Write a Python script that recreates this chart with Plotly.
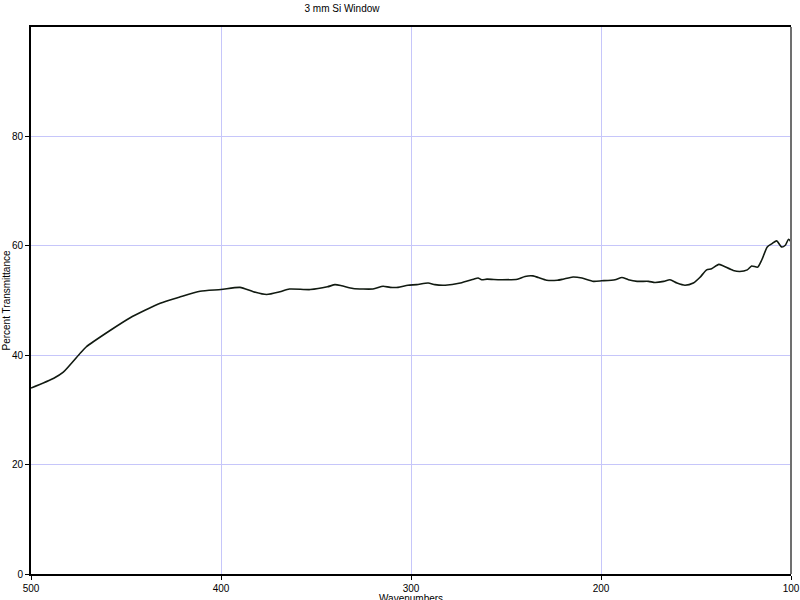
import plotly.graph_objects as go

title_text = "3 mm Si Window"
x_title = "Wavenumbers"
y_title = "Percent Transmittance"

wavenumbers = [500, 488, 483, 474, 471, 458, 448, 432, 422, 411, 400, 390, 383, 376, 369,
               364, 353, 344, 340, 336.5, 330.5, 320, 314.7, 311, 306.8, 301.6, 297, 291,
               287.4, 282, 274, 267, 264.7, 262.8, 260, 253, 244, 240, 235.8, 233, 228.6,
               223, 220, 214.7, 210, 204, 199.6, 192.6, 189, 185.6, 181, 175, 171.6, 167,
               163.7, 160, 155.8, 151.4, 148, 144.4, 141.8, 138, 135.6, 130.4, 127, 123,
               120.7, 117.5, 115.4, 112.5, 110, 107.5, 105, 103, 101.3, 100]
transmittance = [34.0, 35.8, 36.9, 40.4, 41.5, 44.6, 46.8, 49.5, 50.6, 51.7, 52.0, 52.4, 51.6,
                 51.1, 51.6, 52.1, 52.0, 52.5, 52.9, 52.7, 52.2, 52.1, 52.6, 52.4, 52.4, 52.8,
                 52.9, 53.2, 52.9, 52.8, 53.2, 53.9, 54.1, 53.8, 53.9, 53.8, 53.9, 54.4, 54.5,
                 54.2, 53.7, 53.7, 53.9, 54.3, 54.1, 53.5, 53.6, 53.8, 54.2, 53.8, 53.5, 53.5,
                 53.3, 53.5, 53.8, 53.2, 52.8, 53.2, 54.2, 55.6, 55.8, 56.6, 56.3, 55.5, 55.3,
                 55.6, 56.3, 56.1, 57.4, 59.8, 60.4, 60.9, 59.8, 60.1, 61.2, 60.7]

x_ticks = [500, 400, 300, 200, 100]
y_ticks = [0, 20, 40, 60, 80]

FONT = "Liberation Sans, Arial, sans-serif"
GRID = "#c6c6fa"

fig = go.Figure()
fig.add_trace(go.Scatter(
    x=wavenumbers, y=transmittance, mode="lines",
    line=dict(color="#111a11", width=1.6, shape="spline", smoothing=0.6),
    hoverinfo="x+y", showlegend=False,
))

fig.update_layout(
    width=800, height=600,
    margin=dict(l=31, r=9, t=27, b=26),
    paper_bgcolor="white", plot_bgcolor="white",
    font=dict(family=FONT, size=10, color="black"),
    title=dict(text=title_text, x=342 / 800, xanchor="center", y=1 - 8 / 600, yanchor="middle",
               automargin=False, font=dict(family=FONT, size=10, color="black")),
    xaxis=dict(range=[500, 100], tickvals=x_ticks, ticktext=[str(v) for v in x_ticks],
               showgrid=True, gridcolor=GRID, griddash="solid", gridwidth=1,
               showline=True, linecolor="black", linewidth=2, mirror=True, automargin=False,
               ticks="outside", ticklen=4, tickcolor="black", zeroline=False),
    yaxis=dict(range=[0, 100], tickvals=y_ticks, ticktext=[str(v) for v in y_ticks],
               showgrid=True, gridcolor=GRID, griddash="solid", gridwidth=1,
               showline=True, linecolor="black", linewidth=2, mirror=False, automargin=False,
               ticks="outside", ticklen=4, tickcolor="black", zeroline=False),
    shapes=[dict(type="line", xref="paper", yref="paper", x0=1, x1=1, y0=0, y1=1,
                 line=dict(color="#707070", width=2), layer="above")],
    annotations=[
        dict(text=x_title, xref="paper", yref="paper", x=0.5, y=0, xanchor="center",
             yanchor="top", yshift=-17, showarrow=False,
             font=dict(family=FONT, size=10, color="black")),
        dict(text=y_title, xref="paper", yref="paper", x=0, y=0.5, xanchor="center",
             yanchor="middle", xshift=-25, textangle=-90, showarrow=False,
             font=dict(family=FONT, size=10, color="black")),
    ],
)

fig.write_html("out.html", config={"displayModeBar": False},
               post_script="document.body.style.margin='0';document.body.style.overflow='hidden';")
